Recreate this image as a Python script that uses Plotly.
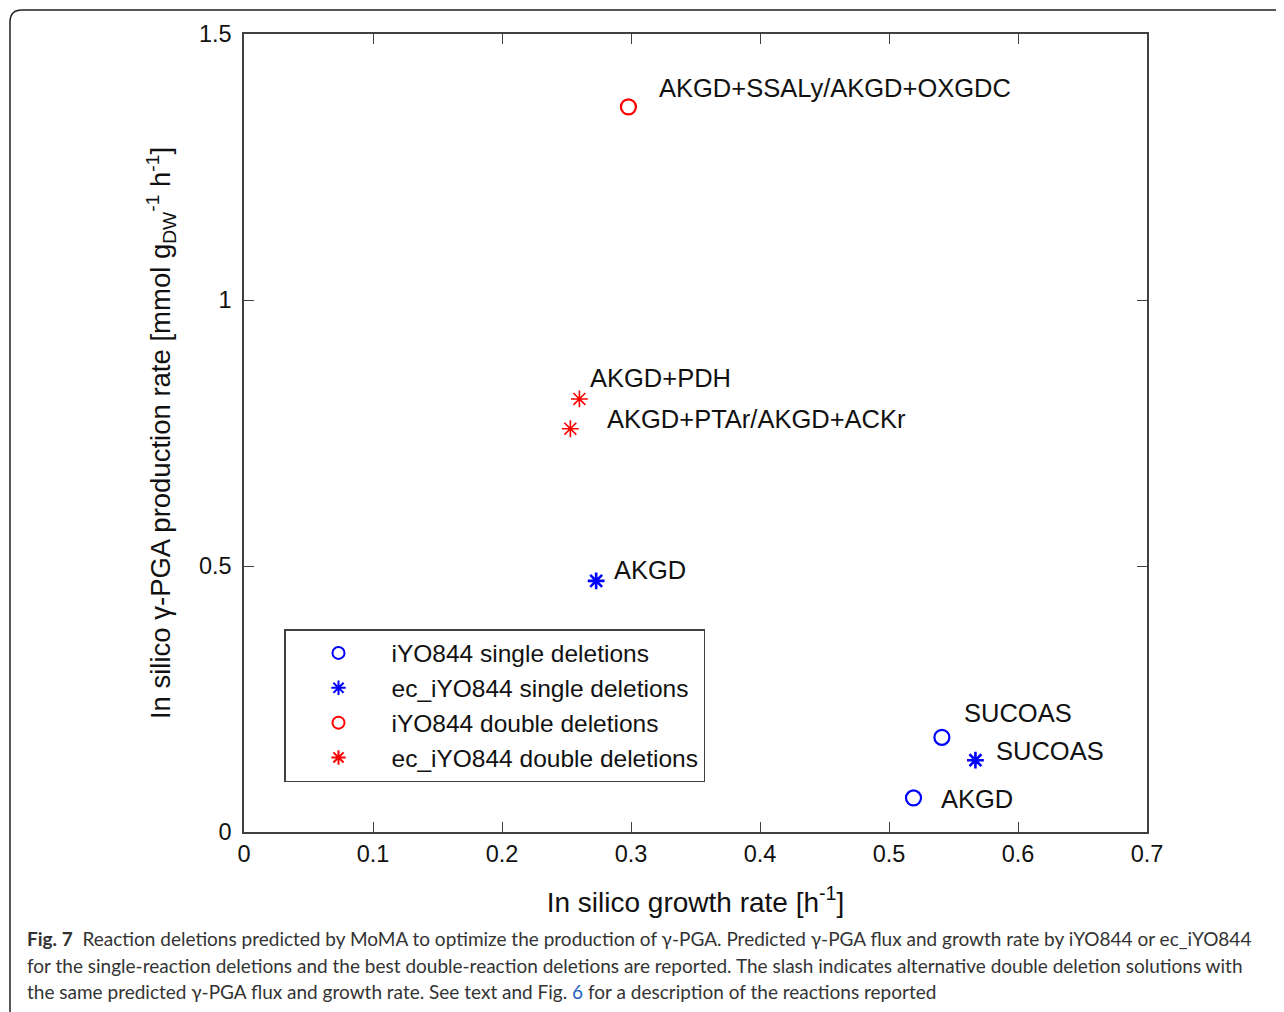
import plotly.graph_objects as go

# ---- data ----
single_iyo_x = [0.541, 0.519]
single_iyo_y = [0.178, 0.064]
single_iyo_lbl = ["SUCOAS", "AKGD"]

single_ec_x = [0.273, 0.567]
single_ec_y = [0.472, 0.135]
single_ec_lbl = ["AKGD", "SUCOAS"]

double_iyo_x = [0.298]
double_iyo_y = [1.363]
double_iyo_lbl = ["AKGD+SSALy/AKGD+OXGDC"]

double_ec_x = [0.260, 0.253]
double_ec_y = [0.814, 0.758]
double_ec_lbl = ["AKGD+PDH", "AKGD+PTAr/AKGD+ACKr"]

x_ticks = [0, 0.1, 0.2, 0.3, 0.4, 0.5, 0.6, 0.7]
x_tick_text = ["0", "0.1", "0.2", "0.3", "0.4", "0.5", "0.6", "0.7"]
y_ticks = [0, 0.5, 1, 1.5]
y_tick_text = ["0", "0.5", "1", "1.5"]

series_names = ["iYO844 single deletions", "ec_iYO844 single deletions",
                "iYO844 double deletions", "ec_iYO844 double deletions"]

caption_lines = [
    "<b>Fig. 7</b>  Reaction deletions predicted by MoMA to optimize the production of γ-PGA. "
    "Predicted γ-PGA flux and growth rate by iYO844 or ec_iYO844",
    "for the single-reaction deletions and the best double-reaction deletions are reported. "
    "The slash indicates alternative double deletion solutions with",
    "the same predicted γ-PGA flux and growth rate. See text and Fig. "
    "<span style='color:#1f5fbf'>6</span> for a description of the reactions reported",
]

BLUE = "#0000FF"
RED = "#FF0000"
FONT = "Liberation Sans, Arial, sans-serif"

# page has an 8px body margin; figure is placed at (8, 8)
OFF = 8
W, H = 1284 - OFF, 1012 - OFF
L, T = 244 - OFF, 34 - OFF
R = W - (1147 - OFF)
B = H - (832 - OFF)
PW, PH = W - L - R, H - T - B


def px_to_paper(px, py):
    """reference-screenshot pixel -> paper coords"""
    fx, fy = px - OFF, py - OFF
    return (fx - L) / PW, (H - B - fy) / PH


fig = go.Figure()
fig.add_trace(go.Scatter(x=single_iyo_x, y=single_iyo_y, mode="markers", name=series_names[0],
                         marker=dict(symbol="circle-open", size=15, color=BLUE, line=dict(width=2.2, color=BLUE))))
fig.add_trace(go.Scatter(x=single_ec_x, y=single_ec_y, mode="markers", name=series_names[1],
                         marker=dict(symbol="asterisk-open", size=14, color=BLUE, line=dict(width=2.6, color=BLUE))))
fig.add_trace(go.Scatter(x=double_iyo_x, y=double_iyo_y, mode="markers", name=series_names[2],
                         marker=dict(symbol="circle-open", size=15, color=RED, line=dict(width=2.2, color=RED))))
fig.add_trace(go.Scatter(x=double_ec_x, y=double_ec_y, mode="markers", name=series_names[3],
                         marker=dict(symbol="asterisk-open", size=14, color=RED, line=dict(width=1.6, color=RED))))

# point labels (offsets in pixels; yshift positive = up)
label_specs = [
    (single_iyo_x, single_iyo_y, single_iyo_lbl, [(20, 24), (25, -1)]),
    (single_ec_x, single_ec_y, single_ec_lbl, [(16, 11), (19, 9)]),
    (double_iyo_x, double_iyo_y, double_iyo_lbl, [(29, 19)]),
    (double_ec_x, double_ec_y, double_ec_lbl, [(9, 21), (35, 10)]),
]
for xs, ys, lbls, offs in label_specs:
    for xv, yv, lb, (dx, dy) in zip(xs, ys, lbls, offs):
        fig.add_annotation(x=xv, y=yv, text=lb, showarrow=False, xanchor="left", yanchor="middle",
                           xshift=dx, yshift=dy, font=dict(family=FONT, size=25.5, color="#111111"))

axis_common = dict(showline=True, linecolor="#404040", linewidth=1.5, mirror="allticks",
                   ticks="inside", ticklen=10, tickwidth=1.2, tickcolor="#404040",
                   showgrid=False, zeroline=False,
                   tickfont=dict(family=FONT, size=23.5, color="#111111"))

fig.update_xaxes(range=[0, 0.7], tickvals=x_ticks, ticktext=x_tick_text, **axis_common,
                 title=dict(text="In silico growth rate [h<sup>-1</sup>]", standoff=26,
                            font=dict(family=FONT, size=28, color="#111111")))
fig.update_yaxes(range=[0, 1.5], tickvals=y_ticks, ticktext=y_tick_text, ticklabelstandoff=6,
                 **axis_common,
                 title=dict(text="In silico γ-PGA production rate [mmol g<sub>DW</sub><sup>-1</sup> h<sup>-1</sup>]",
                            standoff=20, font=dict(family=FONT, size=27.5, color="#111111")))

lx, ly = px_to_paper(284, 629)
fig.update_layout(
    width=W, height=H,
    margin=dict(l=L, r=R, t=T, b=B),
    paper_bgcolor="white", plot_bgcolor="white",
    showlegend=True,
    legend=dict(x=lx, y=ly, xanchor="left", yanchor="top",
                bgcolor="white", bordercolor="#404040", borderwidth=1.5,
                font=dict(family=FONT, size=24.5, color="#111111"),
                itemwidth=96, tracegroupgap=0, itemsizing="constant"),
)

# outer frame (rounded top-left corner)
x0, y0 = px_to_paper(10, 1040)
x1, y1 = px_to_paper(10, 22)
x2, y2 = px_to_paper(22, 10)
x3, y3 = px_to_paper(1300, 10)
cx, cy = px_to_paper(10, 10)
fig.add_shape(type="path", xref="paper", yref="paper",
              path=f"M {x0},{y0} L {x1},{y1} Q {cx},{cy} {x2},{y2} L {x3},{y3}",
              line=dict(color="#222222", width=1.5))

for i, line in enumerate(caption_lines):
    cxp, cyp = px_to_paper(25, 939 + 26 * i)
    fig.add_annotation(xref="paper", yref="paper", x=cxp, y=cyp, xanchor="left", yanchor="middle",
                       text=line, showarrow=False, align="left",
                       font=dict(family="Lato, Open Sans, sans-serif", size=19, color="#333333"))

fig.write_html("out.html")
